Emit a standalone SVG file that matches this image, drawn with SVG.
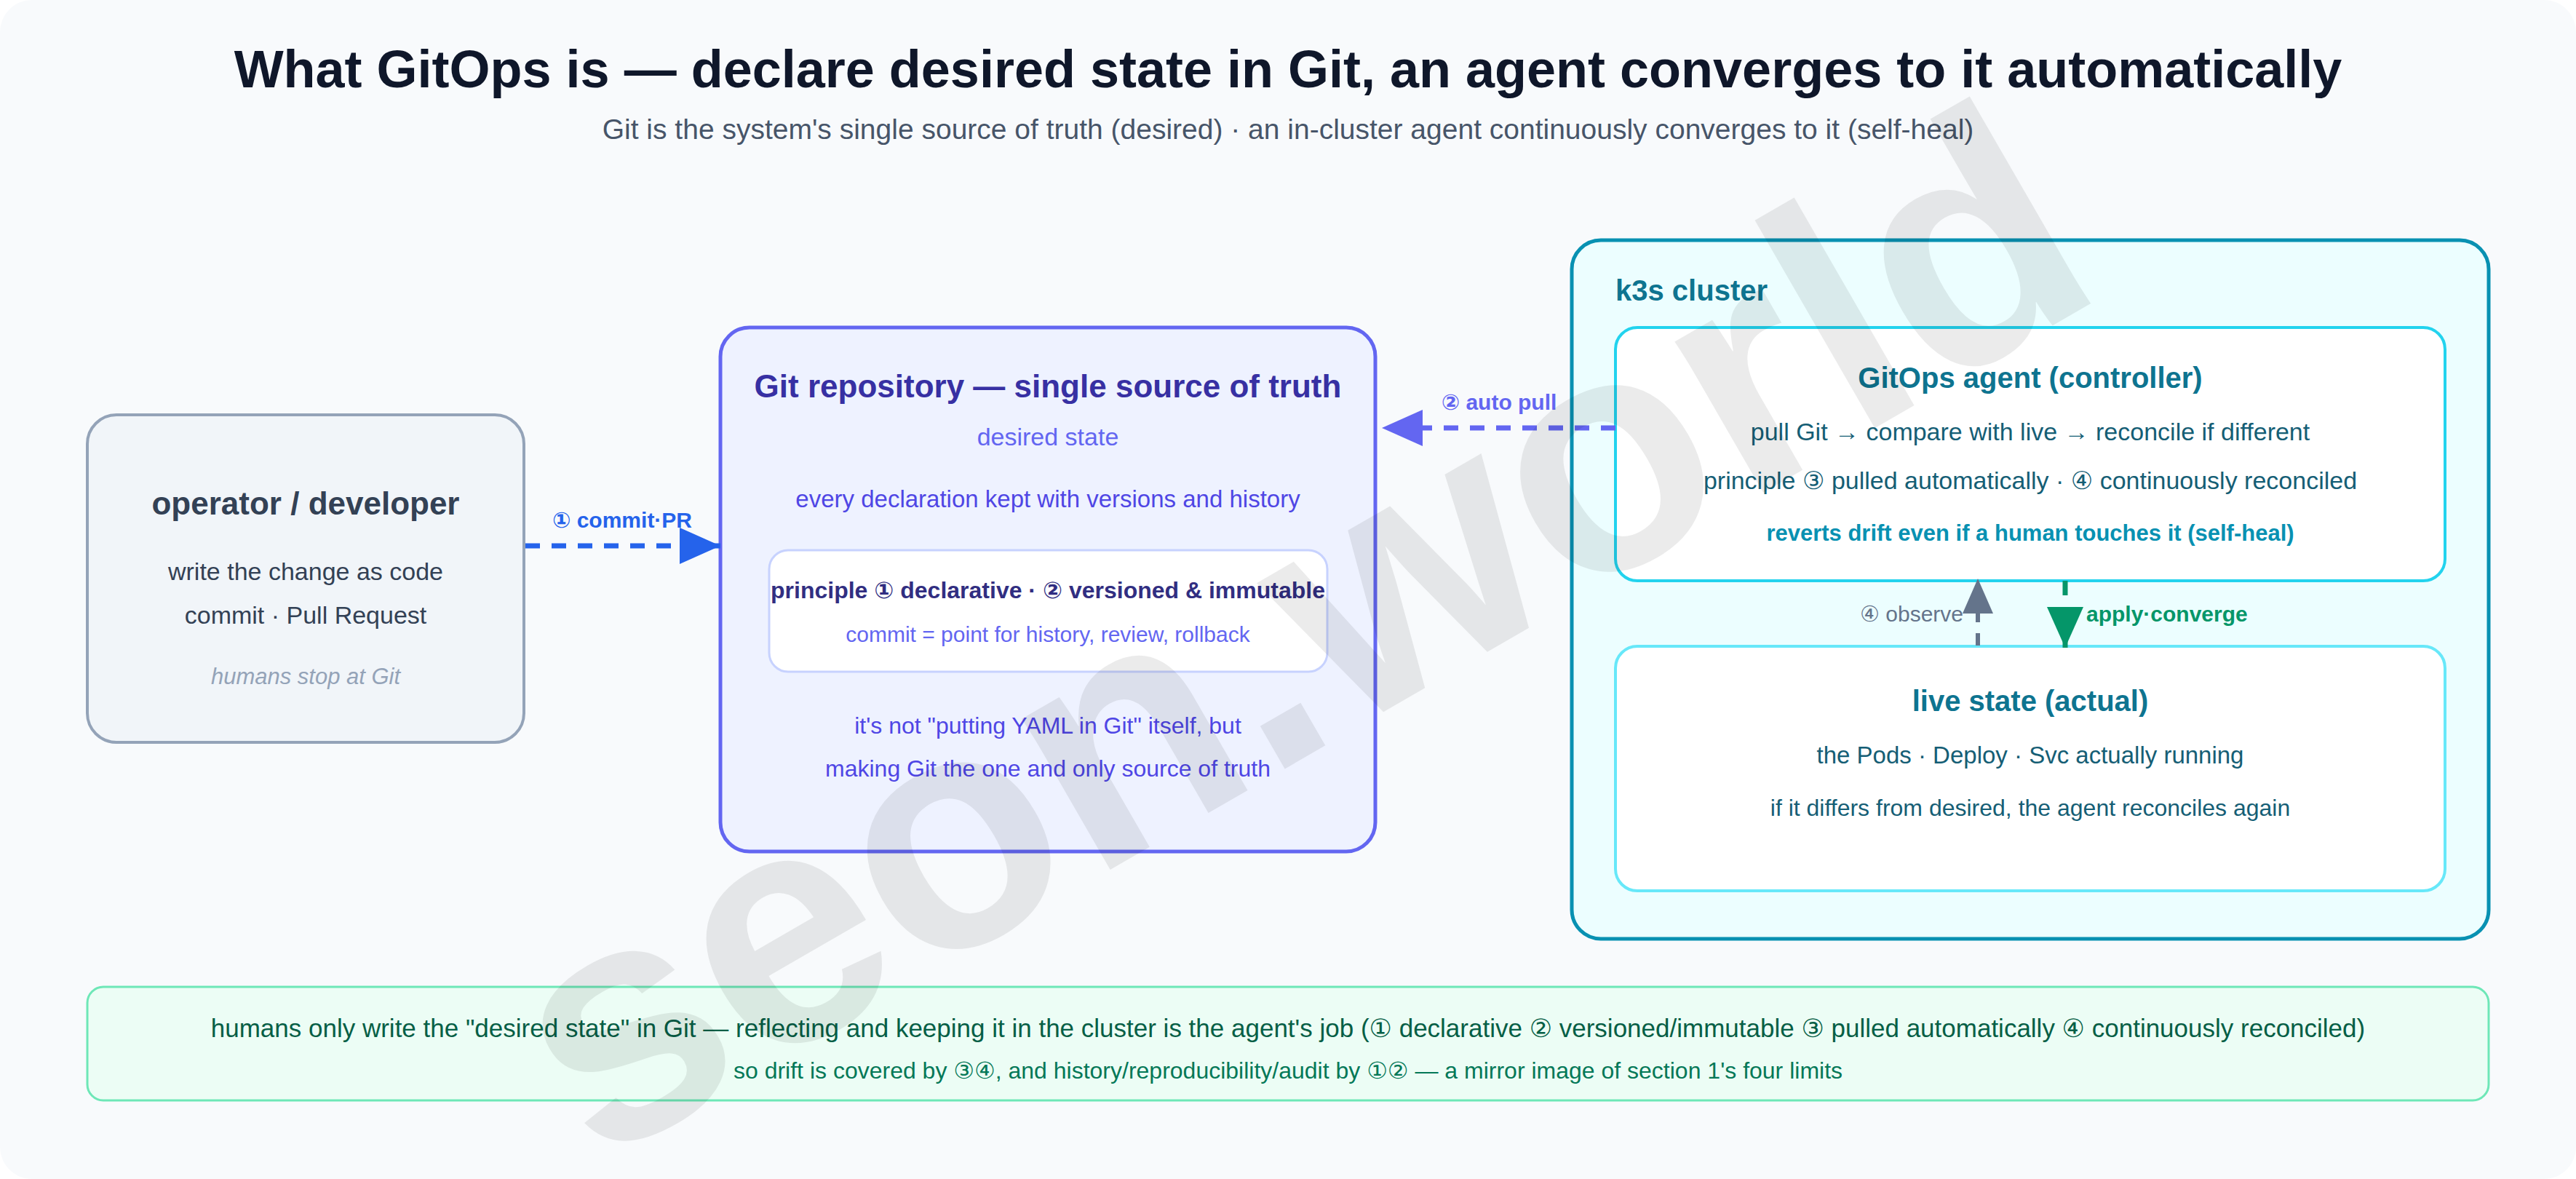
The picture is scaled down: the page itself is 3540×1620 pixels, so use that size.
<svg xmlns="http://www.w3.org/2000/svg" width="3540" height="1620" viewBox="0 0 3540 1620">
<defs>
<style>
text{font-family:"Liberation Sans","DejaVu Sans",sans-serif;}
.b{font-weight:bold;}
.m{text-anchor:middle;}
.box{stroke-linejoin:round;}
</style>
<marker id="ah-blue" markerUnits="userSpaceOnUse" markerWidth="56" markerHeight="50" viewBox="0 0 56 50" refX="56" refY="25" orient="auto"><path d="M0,0 L56,25 L0,50 z" fill="#2563eb"/></marker>
<marker id="ah-indigo" markerUnits="userSpaceOnUse" markerWidth="56" markerHeight="50" viewBox="0 0 56 50" refX="56" refY="25" orient="auto"><path d="M0,0 L56,25 L0,50 z" fill="#6366f1"/></marker>
<marker id="ah-gray" markerUnits="userSpaceOnUse" markerWidth="48" markerHeight="42" viewBox="0 0 48 42" refX="48" refY="21" orient="auto"><path d="M0,0 L48,21 L0,42 z" fill="#64748b"/></marker>
<marker id="ah-green" markerUnits="userSpaceOnUse" markerWidth="56" markerHeight="50" viewBox="0 0 56 50" refX="56" refY="25" orient="auto"><path d="M0,0 L56,25 L0,50 z" fill="#059669"/></marker>
</defs>
<rect x="0" y="0" width="3540" height="1620" fill="#ffffff"/>
<rect x="0" y="0" width="3540" height="1620" rx="44" fill="#f8fafc"/>

<g id="title">
<text x="1770" y="120" class="b m" font-size="72" fill="#0f172a">What GitOps is — declare desired state in Git, an agent converges to it automatically</text>
<text x="1770" y="191" class="m" font-size="39" fill="#475569">Git is the system's single source of truth (desired) · an in-cluster agent continuously converges to it (self-heal)</text>
</g>

<g id="operator">
<rect class="box" x="120" y="570" width="600" height="450" rx="40" fill="#f1f5f9" stroke="#94a3b8" stroke-width="4"/>
<text x="420" y="707" class="b m" font-size="44" fill="#334155">operator / developer</text>
<text x="420" y="797" class="m" font-size="34" fill="#334155">write the change as code</text>
<text x="420" y="857" class="m" font-size="34" fill="#334155">commit · Pull Request</text>
<text x="420" y="940" class="m" font-size="31" font-style="italic" fill="#94a3b8">humans stop at Git</text>
</g>

<g id="git-repo">
<rect class="box" x="990" y="450" width="900" height="720" rx="40" fill="#eef2ff" stroke="#6366f1" stroke-width="5"/>
<text x="1440" y="546" class="b m" font-size="44" fill="#3730a3">Git repository — single source of truth</text>
<text x="1440" y="612" class="m" font-size="34" fill="#6366f1">desired state</text>
<text x="1440" y="697" class="m" font-size="33" fill="#4f46e5">every declaration kept with versions and history</text>
<g id="principles">
<rect class="box" x="1057" y="756" width="767" height="167" rx="26" fill="#ffffff" stroke="#c7d2fe" stroke-width="3"/>
<text x="1440" y="822" class="b m" font-size="32" fill="#312e81">principle ① declarative · ② versioned &amp; immutable</text>
<text x="1440" y="882" class="m" font-size="30" fill="#6366f1">commit = point for history, review, rollback</text>
</g>
<text x="1440" y="1008" class="m" font-size="32" fill="#4f46e5">it's not "putting YAML in Git" itself, but</text>
<text x="1440" y="1067" class="m" font-size="32" fill="#4f46e5">making Git the one and only source of truth</text>
</g>

<g id="k3s-cluster">
<rect class="box" x="2160" y="330" width="1260" height="960" rx="40" fill="#ecfeff" stroke="#0891b2" stroke-width="5"/>
<text x="2220" y="413" class="b" font-size="40" fill="#0e7490">k3s cluster</text>
</g>

<g id="gitops-agent">
<rect class="box" x="2220" y="450" width="1140" height="348" rx="30" fill="#ffffff" stroke="#22d3ee" stroke-width="4"/>
<text x="2790" y="533" class="b m" font-size="40" fill="#0e7490">GitOps agent (controller)</text>
<text x="2790" y="605" class="m" font-size="34" fill="#155e75">pull Git → compare with live → reconcile if different</text>
<text x="2790" y="672" class="m" font-size="34" fill="#155e75">principle ③ pulled automatically · ④ continuously reconciled</text>
<text x="2790" y="743" class="b m" font-size="31" fill="#0891b2">reverts drift even if a human touches it (self-heal)</text>
</g>

<g id="live-state">
<rect class="box" x="2220" y="888" width="1140" height="336" rx="30" fill="#ffffff" stroke="#67e8f9" stroke-width="4"/>
<text x="2790" y="977" class="b m" font-size="40" fill="#0e7490">live state (actual)</text>
<text x="2790" y="1049" class="m" font-size="33" fill="#155e75">the Pods · Deploy · Svc actually running</text>
<text x="2790" y="1121" class="m" font-size="32" fill="#155e75">if it differs from desired, the agent reconciles again</text>
</g>

<g id="connectors" fill="none">
<path d="M722,750 L990,750" stroke="#2563eb" stroke-width="7" stroke-dasharray="20 16" marker-end="url(#ah-blue)"/>
<path d="M2220,588 L1899,588" stroke="#6366f1" stroke-width="7" stroke-dasharray="20 16" marker-end="url(#ah-indigo)"/>
<path d="M2718,887 L2718,795" stroke="#64748b" stroke-width="6" stroke-dasharray="17 15" marker-end="url(#ah-gray)"/>
<path d="M2838,798 L2838,890" stroke="#059669" stroke-width="7" stroke-dasharray="20 16" marker-end="url(#ah-green)"/>
<g stroke="none">
<text x="855" y="725" class="b m" font-size="30" fill="#2563eb">① commit·PR</text>
<text x="2060" y="563" class="b m" font-size="30" fill="#6366f1">② auto pull</text>
<text x="2698" y="854" font-size="30" text-anchor="end" fill="#64748b">④ observe</text>
<text x="2867" y="854" class="b" font-size="30" fill="#059669">apply·converge</text>
</g>
</g>

<g id="summary">
<rect class="box" x="120" y="1356" width="3300" height="156" rx="22" fill="#ecfdf5" stroke="#6ee7b7" stroke-width="3"/>
<text x="1770" y="1425" class="m" font-size="35" fill="#065f46">humans only write the "desired state" in Git — reflecting and keeping it in the cluster is the agent's job (① declarative ② versioned/immutable ③ pulled automatically ④ continuously reconciled)</text>
<text x="1770" y="1482" class="m" font-size="32" fill="#047857">so drift is covered by ③④, and history/reproducibility/audit by ①② — a mirror image of section 1's four limits</text>
</g>

<g id="watermark" opacity="0.075">
<text x="0" y="0" transform="translate(1800,900) rotate(-30)" dy="0.26em" class="b m" font-size="455" fill="#000000">seon.world</text>
</g>
</svg>
